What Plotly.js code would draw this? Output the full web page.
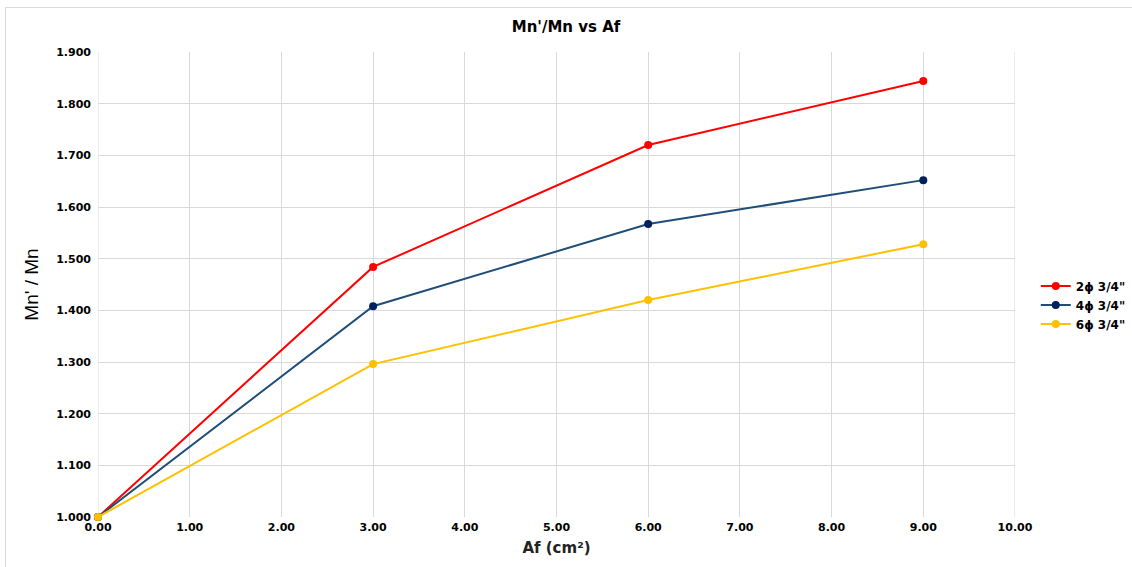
<!DOCTYPE html>
<html><head><meta charset="utf-8">
<script src="https://cdn.plot.ly/plotly-3.0.1.min.js"></script>
<style>
html,body{margin:0;padding:0;background:#fff;}
#frame{position:absolute;left:5px;top:7px;width:1140px;height:580px;border:1px solid #d9d9d9;box-sizing:border-box;}
#chart{position:absolute;left:0;top:0;width:1132px;height:567px;}
</style></head>
<body>
<div id="frame"></div>
<div id="chart"></div>
<script>
const xValues = [0, 3, 6, 9];
const seriesNames = ["2ϕ 3/4\"", "4ϕ 3/4\"", "6ϕ 3/4\""];
const series2 = [1.000, 1.484, 1.720, 1.844];
const series4 = [1.000, 1.408, 1.567, 1.652];
const series6 = [1.000, 1.296, 1.420, 1.528];
const yTickVals = [1.0,1.1,1.2,1.3,1.4,1.5,1.6,1.7,1.8,1.9];
const xTickVals = [0,1,2,3,4,5,6,7,8,9,10];

const lineColors = ["#FF0000", "#1F4E79", "#FFC000"];
const markerColors = ["#FF0000", "#002060", "#FFC000"];
const allSeries = [series2, series4, series6];

const traces = allSeries.map((ys, i) => ({
  x: xValues, y: ys, name: seriesNames[i], type: 'scatter', mode: 'lines+markers',
  cliponaxis: false,
  line: {color: lineColors[i], width: 2},
  marker: {color: markerColors[i], size: 8}
}));

const tickFont = {family: 'DejaVu Sans', size: 11, color: '#000', weight: 'bold'};
const layout = {
  width: 1132, height: 567,
  paper_bgcolor: 'rgba(0,0,0,0)', plot_bgcolor: 'rgba(0,0,0,0)',
  margin: {l: 98, r: 117, t: 52, b: 50},
  title: {text: "<b>Mn'/Mn vs Af</b>", font: {family: 'DejaVu Sans', size: 15, color: '#000'}, x: 0.5, xanchor: 'center', y: 0.952, yanchor: 'middle'},
  xaxis: {
    range: [0, 10], tickvals: xTickVals, ticktext: xTickVals.map(v => v.toFixed(2)),
    showgrid: true, gridcolor: '#d9d9d9', gridwidth: 1, zeroline: false,
    showline: false, ticks: '', tickfont: tickFont, ticklabelstandoff: 2,
    title: {text: "<b>Af (cm²)</b>", font: {family: 'DejaVu Sans', size: 15, color: '#222'}, standoff: 9}
  },
  yaxis: {
    range: [1.0, 1.9], tickvals: yTickVals, ticktext: yTickVals.map(v => v.toFixed(3)),
    showgrid: true, gridcolor: '#d9d9d9', gridwidth: 1, zeroline: false,
    showline: false, ticks: '', tickfont: tickFont, ticklabelstandoff: 6,
    title: {text: "Mn' / Mn", font: {family: 'Liberation Sans Narrow, Liberation Sans', size: 19, color: '#000'}, standoff: 12}
  },
  shapes: [
    {type: 'line', xref: 'x', yref: 'paper', x0: 0, x1: 0, y0: 0, y1: 1, line: {color: '#d9d9d9', width: 1}, layer: 'below'},
    {type: 'line', xref: 'x', yref: 'paper', x0: 10, x1: 10, y0: 0, y1: 1, line: {color: '#d9d9d9', width: 1}, layer: 'below'}
  ],
  showlegend: true,
  legend: {xref: 'container', yref: 'container', x: 0.915, xanchor: 'left', y: 0.462, yanchor: 'middle', font: {family: 'DejaVu Sans', size: 12, color: '#000', weight: 'bold'}, itemwidth: 30, tracegroupgap: 2, bgcolor: 'rgba(0,0,0,0)'}
};
Plotly.newPlot('chart', traces, layout, {displayModeBar: false, staticPlot: true});
</script>
</body></html>
